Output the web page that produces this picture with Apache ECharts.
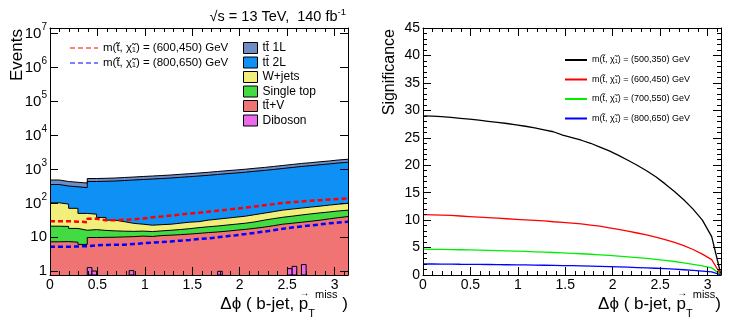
<!DOCTYPE html>
<html>
<head>
<meta charset="utf-8">
<script src="https://cdn.jsdelivr.net/npm/echarts@6/dist/echarts.min.js"></script>
<style>
html, body { margin: 0; padding: 0; background: #fff; }
#chart { width: 747px; height: 323px; }
</style>
</head>
<body>
<div id="chart"></div>
<script>
// left pad: stacked backgrounds, 32 bins between 0 and pi
const nBins = 32;
const ttV = [7.4, 7.5, 7.2, 6.2, 9.9, 10.0, 10.1, 10.3, 10.5, 10.9, 10.6, 11.3, 11.6, 12.0, 12.5, 13.1,
  13.8, 14.4, 15.2, 16.2, 17.2, 18.5, 20.0, 22.0, 24.4, 26.0, 27.8, 29.8, 32.0, 35.0, 38.0, 41.0];
const singleTop = [13.9, 13.5, 11.1, 10.0, 7.0, 6.0, 5.4, 4.9, 4.5, 4.4, 4.2, 4.2, 4.6, 5.0, 5.5, 6.2,
  6.7, 7.2, 7.8, 8.3, 8.9, 10.0, 12.1, 13.5, 14.6, 16.0, 17.7, 19.2, 20.5, 21.0, 22.0, 22.0];
const wJets = [82.7, 74.0, 53.2, 34.4, 31.3, 22.5, 16.6, 13.7, 10.8, 9.1, 8.0, 8.1, 8.2, 9.1, 10.0, 9.7,
  11.6, 12.7, 13.7, 14.8, 16.0, 18.1, 19.4, 21.5, 24.4, 25.9, 27.1, 28.8, 30.5, 33.0, 35.0, 37.0];
const tt2L = [255, 229, 236, 241, 392, 408, 423, 442, 461, 480, 498, 515, 534, 560, 582, 610,
  638, 674, 711, 745, 785, 833, 879, 938, 1002, 1071, 1147, 1210, 1286, 1358, 1452, 1524];
const tt1L = [128, 116, 110, 105, 99, 101, 103, 106, 110, 114, 118, 122, 126, 132, 138, 145,
  152, 160, 169, 177, 187, 199, 210, 225, 241, 258, 276, 291, 310, 327, 350, 367];
// diboson is finer binned (64 bins), almost empty
const diboson = [0, 0, 0, 0, 0, 0, 0, 0, 1.29, 1.02, 0, 0, 0, 0, 0, 0,
  0, 1.05, 0, 0, 0, 0, 0, 0, 0, 0, 0, 0, 0, 0, 0, 0,
  0, 0, 0, 0, 1.0, 0, 0, 0, 0, 0, 0, 0, 0, 0, 0, 0,
  0, 0, 0, 1.2, 1.4, 0, 1.58, 0, 0, 0, 0, 0, 0, 0, 0, 0];
const sig600 = [30, 30, 29, 28, 35, 32, 32, 33, 34, 36, 39, 41, 44, 47, 50, 53,
  57, 61, 65, 70, 75, 81, 88, 95, 103, 108, 114, 119, 124, 130, 135, 140];
const sig800 = [5.3, 5.3, 5.4, 5.5, 5.8, 6.0, 6.1, 6.1, 6.4, 6.7, 7.0, 7.3, 7.6, 8.0, 8.4, 8.9,
  9.4, 10.0, 10.8, 11.6, 12.5, 13.5, 14.8, 16.3, 17.8, 19.5, 21.0, 22.5, 24.0, 25.8, 27.3, 28.8];

// right pad: significance vs cut value, at the 33 bin edges
const signif500 = [29.0, 28.95, 28.85, 28.7, 28.55, 28.4, 28.2, 28.0, 27.8, 27.6, 27.35, 27.1, 26.8, 26.45, 26.1, 25.5,
  25.05, 24.55, 24.0, 23.3, 22.6, 21.8, 20.9, 20.0, 19.0, 17.9, 16.6, 15.2, 13.7, 12.0, 10.0, 7.0, 0];
const signif600 = [11.0, 10.95, 10.9, 10.85, 10.75, 10.65, 10.55, 10.45, 10.35, 10.25, 10.15, 10.05, 9.95, 9.85, 9.7, 9.6,
  9.45, 9.3, 9.1, 8.9, 8.6, 8.3, 8.0, 7.65, 7.3, 6.9, 6.45, 5.95, 5.35, 4.65, 3.8, 2.8, 0];
const signif700 = [4.7, 4.68, 4.66, 4.63, 4.6, 4.56, 4.52, 4.48, 4.44, 4.39, 4.34, 4.29, 4.23, 4.17, 4.1, 4.03,
  3.95, 3.87, 3.78, 3.68, 3.57, 3.45, 3.32, 3.18, 3.03, 2.86, 2.67, 2.46, 2.22, 1.95, 1.65, 1.3, 0];
const signif800 = [2.0, 2.0, 1.99, 1.98, 1.96, 1.95, 1.93, 1.91, 1.89, 1.87, 1.85, 1.83, 1.8, 1.78, 1.75, 1.72,
  1.69, 1.65, 1.61, 1.57, 1.52, 1.47, 1.42, 1.36, 1.3, 1.23, 1.15, 1.06, 0.96, 0.85, 0.72, 0.58, 0];

const yMinLeft = 0.78, yMaxLeft = 1.45e7;
const FONT = '"Liberation Sans", Arial, Helvetica, sans-serif';

const tb = 't\u0074\u0304';
const mass = (a, b) => 'm(t\u0303, \u03c7\u0303\u2081) = (' + a + ',' + b + ') GeV';
const names = {
  tt1L: tb + ' 1L', tt2L: tb + ' 2L', wj: 'W+jets', st: 'Single top', ttv: tb + '+V', db: 'Diboson',
  s600: mass(600, 450) + '\u200b', s800: mass(800, 650) + '\u200b'
};
const colors = { tt1L: '#6f8cc7', tt2L: '#0e90f5', wj: '#f2ee7a', st: '#42dc42', ttv: '#f17474', db: '#ea6aea' };

// THStack style: each layer drawn as the running sum, top layer first
function addUp(a, b) { return a.map((v, i) => v + b[i]); }
const cumTtV = ttV;
const cumSt = addUp(cumTtV, singleTop);
const cumWj = addUp(cumSt, wJets);
const cumTt2L = addUp(cumWj, tt2L);
const cumTt1L = addUp(cumTt2L, tt1L);

function histPoints(vals) {
  const n = vals.length;
  const pts = vals.map((v, i) => [i * Math.PI / n, v]);
  pts.push([Math.PI, vals[n - 1]]);
  return pts;
}
function edgePoints(vals) {
  return vals.map((v, k) => [k * Math.PI / nBins, v]);
}
const dibosonItems = [];
diboson.forEach((v, i) => {
  if (v > 0) dibosonItems.push([i * Math.PI / diboson.length, (i + 1) * Math.PI / diboson.length, v]);
});

function xLabel(v) {
  const r = Math.round(v * 2) / 2;
  if (Math.abs(v - r) > 1e-6) return '';
  return Number.isInteger(r) ? String(r) : r.toFixed(1);
}
function logLabel(v) {
  const e = Math.log10(v), r = Math.round(e);
  if (Math.abs(e - r) > 1e-6) return '';
  if (r === 0) return '{b|1}';
  if (r === 1) return '{b|10}';
  return '{b|10}{sup|' + r + '}';
}

const tickStyle = { show: true, inside: true, length: 8, lineStyle: { color: '#000', width: 1 } };
const minorStyle = { show: true, splitNumber: 5, length: 4, lineStyle: { color: '#000', width: 1 } };
const lineAx = { show: true, onZero: false, lineStyle: { color: '#000', width: 1 } };

function xAx(grid, pos, labels) {
  return {
    gridIndex: grid, type: 'value', position: pos, min: 0, max: Math.PI, interval: 0.5, z: 10,
    axisLine: lineAx, axisTick: tickStyle, minorTick: minorStyle, splitLine: { show: false },
    axisLabel: { show: labels, formatter: xLabel, fontSize: 14, margin: 3, color: '#000', fontFamily: FONT }
  };
}

function layerSeries(key, cum) {
  return {
    name: names[key], type: 'line', step: 'end', data: histPoints(cum),
    xAxisIndex: 0, yAxisIndex: 0, symbol: 'none', z: 2,
    lineStyle: { color: '#000', width: 1 }, itemStyle: { color: colors[key] },
    areaStyle: { color: colors[key], opacity: 1, origin: 'start' }
  };
}
function sigSeries(key, vals, color) {
  return {
    name: names[key], type: 'line', step: 'end', data: histPoints(vals),
    xAxisIndex: 0, yAxisIndex: 0, symbol: 'none', z: 6,
    lineStyle: { color: color, width: 2.5, type: [5, 3] }, itemStyle: { color: color }
  };
}
function signifSeries(name, vals, color) {
  return {
    name: name, type: 'line', data: edgePoints(vals), xAxisIndex: 2, yAxisIndex: 2,
    symbol: 'none', z: 5, lineStyle: { color: color, width: 1.3 }, itemStyle: { color: color }
  };
}
const boxItem = key => ({ name: names[key], icon: 'rect',
  itemStyle: { color: colors[key], borderColor: '#000', borderWidth: 1 } });
const dashIcon = 'path://M0,0h5v1h-5z M8,0h5v1h-5z M16,0h5v1h-5z M24,0h4v1h-4z';
const dashItem = (key, color) => ({ name: names[key], icon: dashIcon, itemStyle: { color: color } });
const lineItem = (name, color) => ({ name: name, icon: 'rect', itemStyle: { color: color } });

// x-axis title: the arrow over p is placed from measured text widths
const measureCtx = document.createElement('canvas').getContext('2d');
function tw(text, size) { measureCtx.font = size + 'px ' + FONT; return measureCtx.measureText(text).width; }
const titleRich = {
  n: { fontSize: 17, lineHeight: 30, fontFamily: FONT, fill: '#000' },
  sub: { fontSize: 11, lineHeight: 11, verticalAlign: 'bottom', fontFamily: FONT, fill: '#000' },
  sup: { fontSize: 11, lineHeight: 11, verticalAlign: 'top', fontFamily: FONT, fill: '#000' }
};
function xTitle(xRight, close) {
  const arrowX = xRight - tw(close, 17) - tw('miss', 11) - tw('T', 11) - tw('p', 17) / 2;
  return [
    { type: 'text', x: xRight, y: 304, z: 20,
      style: { text: '{n|\u0394\u03d5 ( b-jet, p}{sub|T}{sup|miss}{n|' + close + '}', align: 'right',
        verticalAlign: 'middle', rich: titleRich } },
    { type: 'text', x: arrowX + 1, y: 293, z: 20,
      style: { text: '\u2192', font: 'bold 10px ' + FONT, fill: '#000', align: 'center', verticalAlign: 'middle' } }
  ];
}

const chart = echarts.init(document.getElementById('chart'), null, { renderer: 'canvas' });
chart.setOption({
  animation: false,
  backgroundColor: '#fff',
  textStyle: { fontFamily: FONT, color: '#000' },
  grid: [
    { left: 50, top: 28, width: 298, height: 247 },
    { left: 423, top: 28, width: 298, height: 247 }
  ],
  xAxis: [xAx(0, 'bottom', true), xAx(0, 'top', false), xAx(1, 'bottom', true), xAx(1, 'top', false)],
  yAxis: [
    { gridIndex: 0, type: 'log', logBase: 10, min: yMinLeft, max: yMaxLeft, position: 'left', z: 10,
      axisLine: lineAx, axisTick: tickStyle, splitLine: { show: false },
      axisLabel: { formatter: logLabel, margin: 3, color: '#000',
        rich: { b: { fontSize: 15, lineHeight: 22, fontFamily: FONT, color: '#000' },
                sup: { fontSize: 10, lineHeight: 11, verticalAlign: 'top', fontFamily: FONT, color: '#000' } } } },
    { gridIndex: 0, type: 'log', logBase: 10, min: yMinLeft, max: yMaxLeft, position: 'right', z: 10,
      axisLine: lineAx, axisTick: tickStyle, splitLine: { show: false }, axisLabel: { show: false } },
    { gridIndex: 1, type: 'value', min: 0, max: 45, interval: 5, position: 'left', z: 10,
      axisLine: lineAx, axisTick: tickStyle, minorTick: minorStyle, splitLine: { show: false },
      axisLabel: { fontSize: 14, margin: 3, color: '#000', fontFamily: FONT } },
    { gridIndex: 1, type: 'value', min: 0, max: 45, interval: 5, position: 'right', z: 10,
      axisLine: lineAx, axisTick: tickStyle, minorTick: minorStyle, splitLine: { show: false },
      axisLabel: { show: false } }
  ],
  legend: [
    { orient: 'vertical', left: 70, top: 41, padding: 0, itemWidth: 28, itemHeight: 2.5, itemGap: 1,
      selectedMode: false, textStyle: { fontSize: 11.5, lineHeight: 14, fontFamily: FONT, color: '#000' },
      data: [dashItem('s600', '#ff0000'), dashItem('s800', '#0000ff')] },
    { orient: 'vertical', left: 243, top: 41, padding: 0, itemWidth: 14, itemHeight: 11, itemGap: 0.5,
      selectedMode: false, textStyle: { fontSize: 12, lineHeight: 14, fontFamily: FONT, color: '#000' },
      data: [boxItem('tt1L'), boxItem('tt2L'), boxItem('wj'), boxItem('st'), boxItem('ttv'), boxItem('db')] },
    { orient: 'vertical', left: 565, top: 55, padding: 0, itemWidth: 22, itemHeight: 2, itemGap: 9.5,
      selectedMode: false, textStyle: { fontSize: 9, lineHeight: 10, fontFamily: FONT, color: '#000' },
      data: [lineItem(mass(500, 350), '#000000'), lineItem(mass(600, 450), '#ff0000'),
             lineItem(mass(700, 550), '#00ee00'), lineItem(mass(800, 650), '#0000ff')] }
  ],
  graphic: [
    { type: 'text', x: 346, y: 17, z: 20,
      style: { text: '{n|\u221As = 13 TeV,  140 fb}{sup|-1}', align: 'right', verticalAlign: 'middle',
        rich: { n: { fontSize: 14.5, lineHeight: 20, fontFamily: FONT, fill: '#000' },
                sup: { fontSize: 9.5, lineHeight: 10, verticalAlign: 'top', fontFamily: FONT, fill: '#000' } } } },
    { type: 'text', x: 17, y: 29, rotation: Math.PI / 2, z: 20,
      style: { text: 'Events', font: '17px ' + FONT, fill: '#000', align: 'right', verticalAlign: 'middle' } },
    { type: 'text', x: 390, y: 29, rotation: Math.PI / 2, z: 20,
      style: { text: 'Significance', font: '16px ' + FONT, fill: '#000', align: 'right', verticalAlign: 'middle' } }
  ].concat(xTitle(348, ' )'), xTitle(721, ')')),
  series: [
    layerSeries('tt1L', cumTt1L),
    layerSeries('tt2L', cumTt2L),
    layerSeries('wj', cumWj),
    layerSeries('st', cumSt),
    layerSeries('ttv', cumTtV),
    {
      name: names.db, type: 'custom', xAxisIndex: 0, yAxisIndex: 0, z: 4,
      data: dibosonItems, encode: { x: [0, 1], y: 2 }, itemStyle: { color: colors.db },
      renderItem: function (params, api) {
        const p1 = api.coord([api.value(0), api.value(2)]);
        const p2 = api.coord([api.value(1), yMinLeft]);
        return { type: 'rect', shape: { x: p1[0], y: p1[1], width: p2[0] - p1[0], height: p2[1] - p1[1] },
          style: { fill: colors.db, stroke: '#000', lineWidth: 1 } };
      }
    },
    sigSeries('s600', sig600, '#ff0000'),
    sigSeries('s800', sig800, '#0000ff'),
    signifSeries(mass(500, 350), signif500, '#000000'),
    signifSeries(mass(600, 450), signif600, '#ff0000'),
    signifSeries(mass(700, 550), signif700, '#00ee00'),
    signifSeries(mass(800, 650), signif800, '#0000ff')
  ]
});
</script>
</body>
</html>
